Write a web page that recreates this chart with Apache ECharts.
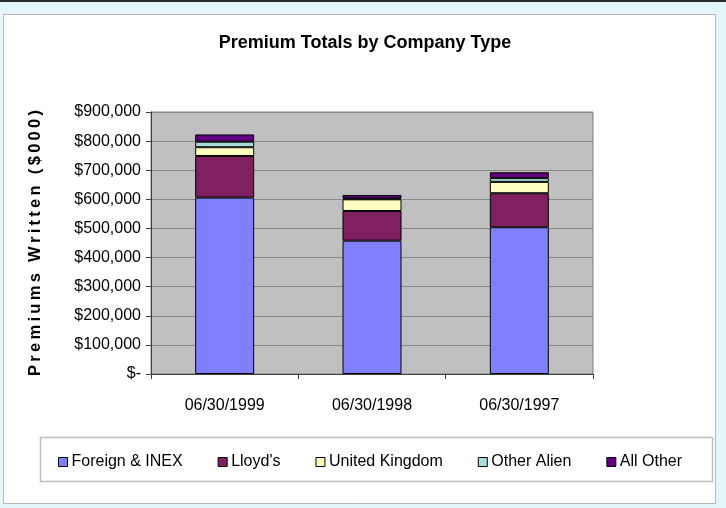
<!DOCTYPE html>
<html>
<head>
<meta charset="utf-8">
<script src="https://cdn.jsdelivr.net/npm/echarts@6/dist/echarts.min.js"></script>
<style>
html,body{margin:0;padding:0;background:#E6F5FA;}
#chart{width:726px;height:508px;}
</style>
</head>
<body>
<div id="chart"></div>
<script>
var categories = ['06/30/1999', '06/30/1998', '06/30/1997'];
var foreignInex = [606000, 458000, 504000];
var lloyds = [143000, 102000, 117000];
var unitedKingdom = [30000, 40000, 39000];
var otherAlien = [19000, 3000, 13000];
var allOther = [25000, 12000, 20000];
var yTicks = [0, 100000, 200000, 300000, 400000, 500000, 600000, 700000, 800000, 900000];

var FONT = "'Liberation Sans', Arial, sans-serif";
var chart = echarts.init(document.getElementById('chart'), null, {renderer: 'canvas'});

function mk(name, data, color) {
  return {
    name: name, type: 'bar', stack: 'total', data: data, barWidth: 59,
    itemStyle: {color: color, borderColor: '#000', borderWidth: 1},
    emphasis: {disabled: true}
  };
}
var axisName = 'Premiums Written ($000)'.split('').join('\u2009');

chart.setOption({
  animation: false,
  backgroundColor: '#E6F5FA',
  textStyle: {fontFamily: FONT},
  graphic: [
    {type: 'rect', shape: {x: 0, y: 0, width: 726, height: 2}, style: {fill: '#2a2a2a'}, silent: true, z: -10},
    {type: 'rect', shape: {x: 3.5, y: 14.5, width: 712, height: 489}, style: {fill: '#fff', stroke: '#b8b8b8', lineWidth: 1}, silent: true, z: -10},
    {type: 'rect', shape: {x: 40.5, y: 437.5, width: 672, height: 44}, style: {fill: '#fff', stroke: '#bdbdbd', lineWidth: 1.5}, silent: true, z: -5}
  ],
  title: {
    text: 'Premium Totals by Company Type',
    left: 360, top: 29, textAlign: 'center',
    textStyle: {fontFamily: FONT, fontSize: 18, fontWeight: 'bold', color: '#000'}
  },
  legend: {
    left: 53, top: 449, itemWidth: 9, itemHeight: 9, itemGap: 35,
    icon: 'rect',
    itemStyle: {borderColor: '#000', borderWidth: 1},
    textStyle: {fontFamily: FONT, fontSize: 16, color: '#000', padding: [0, 0, 0, -1]},
    data: ['Foreign & INEX', "Lloyd's", 'United Kingdom', 'Other Alien', 'All Other']
  },
  grid: {
    left: 151, top: 112, width: 442, height: 262,
    show: true, backgroundColor: '#C0C0C0', borderColor: '#808080', borderWidth: 1
  },
  xAxis: {
    type: 'category', data: categories,
    axisLine: {lineStyle: {color: '#404040', width: 1}},
    axisTick: {show: true, alignWithLabel: false, length: 5, lineStyle: {color: '#404040'}},
    axisLabel: {margin: 24, fontFamily: FONT, fontSize: 16, color: '#000'}
  },
  yAxis: {
    type: 'value', min: 0, max: 900000, interval: 100000,
    name: axisName,
    nameLocation: 'middle', nameGap: 107, nameRotate: 90,
    nameTextStyle: {fontFamily: FONT, fontSize: 16.5, fontWeight: 'bold', color: '#000'},
    axisLine: {show: true, lineStyle: {color: '#404040', width: 1}},
    axisTick: {show: true, length: 5, lineStyle: {color: '#404040'}},
    splitLine: {show: true, lineStyle: {color: '#888888', width: 1}},
    axisLabel: {
      margin: 10, fontFamily: FONT, fontSize: 16, color: '#000',
      formatter: function (v) {
        if (yTicks.indexOf(v) < 0) return '';
        return v === 0 ? '$-' : '$' + v.toLocaleString('en-US');
      }
    }
  },
  series: [
    mk('Foreign & INEX', foreignInex, '#8080FF'),
    mk("Lloyd's", lloyds, '#802060'),
    mk('United Kingdom', unitedKingdom, '#FFFFC0'),
    mk('Other Alien', otherAlien, '#A6DCDC'),
    mk('All Other', allOther, '#600080')
  ]
});
</script>
</body>
</html>
